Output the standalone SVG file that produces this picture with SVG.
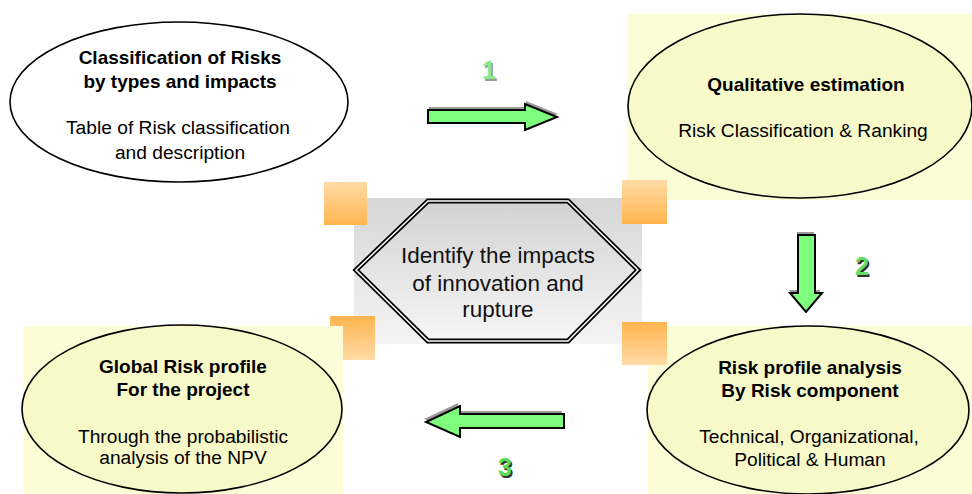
<svg xmlns="http://www.w3.org/2000/svg" width="972" height="494" viewBox="0 0 972 494">
<defs>
<linearGradient id="gGray" x1="0" y1="0" x2="0" y2="1"><stop offset="0" stop-color="#d6d6d6"/><stop offset="1" stop-color="#f4f4f4"/></linearGradient>
<linearGradient id="gHex" x1="0" y1="0" x2="0" y2="1"><stop offset="0" stop-color="#d2d2d2"/><stop offset="1" stop-color="#f6f6f6"/></linearGradient>
<linearGradient id="gOrDown" x1="0" y1="0" x2="0" y2="1"><stop offset="0" stop-color="#ffdba6"/><stop offset="1" stop-color="#ffb54e"/></linearGradient>
<linearGradient id="gOrUp" x1="0" y1="0" x2="0" y2="1"><stop offset="0" stop-color="#ffb54e"/><stop offset="1" stop-color="#ffdba6"/></linearGradient>
</defs>
<style>
.t{font-family:"Liberation Sans",Arial,sans-serif;font-size:19.2px;fill:#000;text-anchor:middle}
.b{font-weight:bold;font-size:19px}
.hx{font-family:"Liberation Sans",Arial,sans-serif;font-size:22.5px;fill:#111;text-anchor:middle}
.yel{fill:#fbfdd6}
.ell{stroke:#000;stroke-width:1.6}
.arr{fill:#7dff7d;stroke:#000;stroke-width:2;stroke-linejoin:miter}
.sh{fill:#9a9a9a}
.num{font-family:"Liberation Sans",Arial,sans-serif;font-size:25px;font-weight:bold;text-anchor:middle}
</style>
<rect class="yel" x="627" y="14" width="345" height="186"/>
<rect class="yel" x="648" y="326" width="324" height="168"/>
<g id="center">
<rect x="354" y="198" width="288" height="146" fill="url(#gGray)"/>
<polygon points="356,270 428,201 568,201 638,270 568,341 428,341" fill="url(#gHex)" stroke="#000" stroke-width="5"/>
<polygon points="356,270 428,201 568,201 638,270 568,341 428,341" fill="none" stroke="#fff" stroke-width="1.5"/>
<text class="hx" x="498" y="263">Identify the impacts</text>
<text class="hx" x="498" y="291">of innovation and</text>
<text class="hx" x="498" y="317">rupture</text>
</g>
<g id="squares">
<rect x="324" y="182" width="43" height="43" fill="url(#gOrDown)"/>
<rect x="622" y="180" width="45" height="44" fill="url(#gOrDown)"/>
<rect x="622" y="322" width="45" height="43" fill="url(#gOrUp)"/>
<rect x="330" y="316" width="45" height="44" fill="url(#gOrUp)"/>
</g>
<rect class="yel" x="23" y="326" width="320" height="168"/>
<g id="classification">
<ellipse class="ell" cx="179" cy="102" rx="169" ry="80" fill="#fff"/>
<text class="t b" x="180" y="64">Classification of Risks</text>
<text class="t b" x="180" y="88">by types and impacts</text>
<text class="t" x="178" y="134">Table of  Risk classification</text>
<text class="t" x="180" y="159">and description</text>
</g>
<g id="qualitative">
<ellipse class="ell" cx="800" cy="106" rx="172" ry="92" fill="#f8f9c9"/>
<text class="t b" x="806" y="91">Qualitative estimation</text>
<text class="t" x="803" y="137">Risk Classification &amp; Ranking</text>
</g>
<g id="profile">
<ellipse class="ell" cx="808" cy="410" rx="161" ry="84" fill="#f8f9c9"/>
<text class="t b" x="810" y="374">Risk profile analysis</text>
<text class="t b" x="810" y="397">By Risk component</text>
<text class="t" x="809" y="443">Technical, Organizational,</text>
<text class="t" x="810" y="466">Political &amp; Human</text>
</g>
<g id="global">
<ellipse class="ell" cx="182" cy="409" rx="160" ry="84" fill="#f8f9c9"/>
<text class="t b" x="183" y="373">Global Risk profile</text>
<text class="t b" x="183" y="396">For the project</text>
<text class="t" x="183" y="443">Through the probabilistic</text>
<text class="t" x="183" y="464">analysis of the NPV</text>
</g>
<g id="connectors">
<path class="sh" transform="translate(1,-3)" d="M428,110 H525 V104 L557,117 L525,130 V123 H428 Z"/>
<path class="arr" d="M428,110 H525 V104 L557,117 L525,130 V123 H428 Z"/>
<text class="num" x="490.5" y="80.5" fill="#999">1</text>
<text class="num" x="489" y="79" fill="#8be88b">1</text>
<path class="sh" transform="translate(-1,-3)" d="M798,235 H815 V293 H822 L806,312 L790,293 H798 Z"/>
<path class="arr" d="M798,235 H815 V293 H822 L806,312 L790,293 H798 Z"/>
<text class="num" x="863.5" y="276.5" fill="#333">2</text>
<text class="num" x="862" y="275" fill="#66dd66">2</text>
<path class="sh" transform="translate(-2,-3)" d="M564,414 H460 V406 L426,422 L460,437 V428 H564 Z"/>
<path class="arr" d="M564,414 H460 V406 L426,422 L460,437 V428 H564 Z"/>
<text class="num" x="506.5" y="477.5" fill="#333">3</text>
<text class="num" x="505" y="476" fill="#55dd55">3</text>
</g>
</svg>
